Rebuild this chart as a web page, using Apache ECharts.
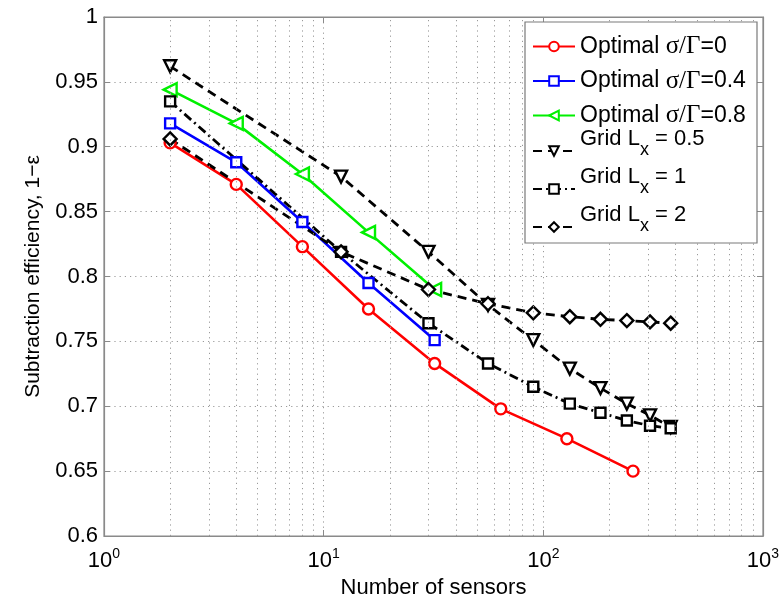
<!DOCTYPE html>
<html>
<head>
<meta charset="utf-8">
<script src="https://cdn.jsdelivr.net/npm/echarts@6/dist/echarts.min.js"></script>
<style>
  html, body { margin: 0; padding: 0; background: #fff; }
  #chart { width: 783px; height: 600px; }
</style>
</head>
<body>
<div id="chart"></div>
<script>
// Number of sensors for the optimised layouts and for the regular grids
const sensorsOptimal = [2, 4, 8, 16, 32, 64, 128, 256];
const sensorsOptimalShort = [2, 4, 8, 16, 32];
const sensorsGrid = [2, 12, 30, 56, 90, 132, 182, 240, 306, 380];

// Subtraction efficiency 1-ε
const optimalSigma0 = [0.903, 0.871, 0.823, 0.775, 0.733, 0.698, 0.675, 0.650];
const optimalSigma04 = [0.918, 0.888, 0.842, 0.795, 0.751];
const optimalSigma08 = [0.944, 0.918, 0.879, 0.834, 0.790];
const gridLx05 = [0.962, 0.877, 0.819, 0.778, 0.751, 0.729, 0.714, 0.702, 0.693, 0.684];
const gridLx1 = [0.935, 0.819, 0.764, 0.733, 0.715, 0.702, 0.695, 0.689, 0.685, 0.683];
const gridLx2 = [0.906, 0.819, 0.790, 0.779, 0.772, 0.769, 0.767, 0.766, 0.765, 0.764];

// Log-axis minor gridline positions
const minorGridX = [2, 3, 4, 5, 6, 7, 8, 9, 20, 30, 40, 50, 60, 70, 80, 90, 200, 300, 400, 500, 600, 700, 800, 900];

const yTicks = { min: 0.6, max: 1, interval: 0.05 };

const optimalNames = ['Optimal σ/Γ=0', 'Optimal σ/Γ=0.4', 'Optimal σ/Γ=0.8'];
const gridNames = ['Grid Lx = 0.5', 'Grid Lx = 1', 'Grid Lx = 2'];

const pair = (xs, ys) => xs.map((x, i) => [x, ys[i]]);

const FONT = 'Liberation Sans, Arial, sans-serif';
const SERIF = 'Liberation Serif, Times New Roman, serif';
const AXIS_GRAY = '#8a8a8a';
const GRID_DOT = { color: '#9a9a9a', width: 1, type: [1.2, 4] };

function lineSeries(name, xs, ys, color, symbol, opts) {
  return Object.assign({
    name: name,
    type: 'line',
    data: pair(xs, ys),
    symbol: symbol,
    symbolSize: 11,
    showSymbol: true,
    lineStyle: { color: color, width: 2.6 },
    itemStyle: { color: '#fff', borderColor: color, borderWidth: 2.4 },
    emphasis: { disabled: true },
    animation: false,
    z: 3
  }, opts || {});
}

const chart = echarts.init(document.getElementById('chart'), null, { renderer: 'canvas' });

const legendCommon = {
  orient: 'vertical',
  padding: 0,
  itemWidth: 42, itemHeight: 12,
  backgroundColor: 'transparent',
  borderWidth: 0,
  z: 12
};

const option = {
  backgroundColor: '#fff',
  animation: false,
  grid: {
    left: 104, right: 20, top: 17, bottom: 64,
    outerBoundsMode: 'none',
    show: true, borderColor: AXIS_GRAY, borderWidth: 1.2, backgroundColor: 'transparent'
  },
  // legend frame
  graphic: [{
    type: 'rect', z: 10, silent: true,
    shape: { x: 525, y: 22, width: 232, height: 221 },
    style: { fill: '#fff', stroke: '#7a7a7a', lineWidth: 1.2 }
  }],
  legend: [
    Object.assign({}, legendCommon, {
      left: 532, top: 34,
      itemGap: 9.5,
      textStyle: {
        fontFamily: FONT, fontSize: 23, color: '#000',
        rich: {
          a: { fontFamily: FONT, fontSize: 23, lineHeight: 26, color: '#000' },
          g: { fontFamily: SERIF, fontSize: 25, lineHeight: 26, color: '#000' }
        }
      },
      formatter: function (name) {
        const v = name.split('=')[1];
        return '{a|Optimal }{g|σ/Γ}{a|=' + v + '}';
      },
      data: optimalNames
    }),
    Object.assign({}, legendCommon, {
      left: 532, top: 123,
      itemGap: -8,
      textStyle: {
        fontFamily: FONT, fontSize: 22, color: '#000',
        rich: {
          a: { fontFamily: FONT, fontSize: 22, lineHeight: 26, verticalAlign: 'top', color: '#000' },
          s: { fontFamily: FONT, fontSize: 18, lineHeight: 17, padding: [18, 0, 0, 0], color: '#000' },
          e: { fontSize: 10, lineHeight: 20, color: '#000' }
        }
      },
      formatter: function (name) {
        const v = name.split('= ')[1];
        return '{a|Grid L}{s|x}{a| = ' + v + '}\n{e| }';
      },
      data: gridNames
    })
  ],
  xAxis: [{
    type: 'log', logBase: 10, min: 1, max: 1000,
    name: 'Number of sensors', nameLocation: 'middle', nameGap: 34,
    nameTextStyle: { fontFamily: FONT, fontSize: 22, color: '#000' },
    axisLine: { show: true, lineStyle: { color: AXIS_GRAY, width: 1.2 } },
    axisTick: { show: true, inside: true, length: 6, lineStyle: { color: AXIS_GRAY } },
    axisLabel: {
      margin: 11, color: '#000',
      formatter: function (v) {
        return '{b|10}{s|' + Math.round(Math.log10(v)) + '}';
      },
      rich: {
        b: { fontFamily: FONT, fontSize: 22, color: '#000' },
        s: { fontFamily: FONT, fontSize: 14, color: '#000', padding: [0, 0, 14, 0] }
      }
    },
    splitLine: { show: true, lineStyle: GRID_DOT },
    minorTick: { show: false },
    minorSplitLine: { show: false }
  }, {
    type: 'log', logBase: 10, min: 1, max: 1000, position: 'top',
    axisLine: { show: true, lineStyle: { color: AXIS_GRAY, width: 1.2 } },
    axisTick: { show: true, inside: true, length: 6, lineStyle: { color: AXIS_GRAY } },
    axisLabel: { show: false },
    splitLine: { show: false }
  }],
  yAxis: [{
    type: 'value', min: yTicks.min, max: yTicks.max, interval: yTicks.interval,
    name: 'Subtraction efficiency, 1−ε', nameLocation: 'middle', nameGap: 60,
    nameTextStyle: { fontFamily: FONT, fontSize: 21, color: '#000' },
    axisLine: { show: true, lineStyle: { color: AXIS_GRAY, width: 1.2 } },
    axisTick: { show: true, inside: true, length: 6, lineStyle: { color: AXIS_GRAY } },
    axisLabel: { fontFamily: FONT, fontSize: 22, color: '#000', margin: 6 },
    splitLine: { show: true, lineStyle: GRID_DOT }
  }, {
    type: 'value', min: yTicks.min, max: yTicks.max, interval: yTicks.interval, position: 'right',
    axisLine: { show: true, lineStyle: { color: AXIS_GRAY, width: 1.2 } },
    axisTick: { show: true, inside: true, length: 6, lineStyle: { color: AXIS_GRAY } },
    axisLabel: { show: false },
    splitLine: { show: false }
  }],
  series: [
    {
      name: 'minor-grid', type: 'line', data: [], silent: true, animation: false,
      markLine: {
        silent: true, symbol: 'none', animation: false,
        label: { show: false },
        lineStyle: GRID_DOT,
        data: minorGridX.map(x => ({ xAxis: x }))
      },
      z: 1
    },
    lineSeries(optimalNames[0], sensorsOptimal, optimalSigma0, '#ff0000', 'circle', { symbolSize: 11 }),
    lineSeries(optimalNames[1], sensorsOptimalShort, optimalSigma04, '#0000ff', 'rect', { symbolSize: 10 }),
    lineSeries(optimalNames[2], sensorsOptimalShort, optimalSigma08, '#00f000', 'triangle', { symbolSize: 13, symbolRotate: 90 }),
    lineSeries(gridNames[0], sensorsGrid, gridLx05, '#000000', 'triangle',
      { symbolSize: 12, symbolRotate: 180, lineStyle: { color: '#000', width: 2.8, type: [9, 6] } }),
    lineSeries(gridNames[1], sensorsGrid, gridLx1, '#000000', 'rect',
      { symbolSize: 10, lineStyle: { color: '#000', width: 2.8, type: [9, 4, 2, 4] } }),
    lineSeries(gridNames[2], sensorsGrid, gridLx2, '#000000', 'diamond',
      { symbolSize: 13, lineStyle: { color: '#000', width: 2.8, type: [9, 6] } })
  ]
};

chart.setOption(option);
</script>
</body>
</html>
